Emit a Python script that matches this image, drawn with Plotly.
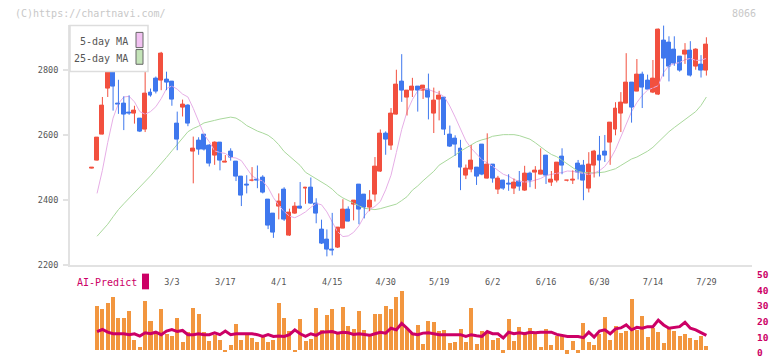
import plotly.graph_objects as go

# ---------------- data ----------------
open_ = [2497, 2521, 2602, 2743, 2808, 2698, 2697, 2670, 2665, 2650,
         2617, 2729, 2773, 2768, 2770, 2763, 2635, 2685, 2692, 2549,
         2584, 2602, 2568, 2536, 2578, 2516, 2548, 2518, 2472, 2446,
         2458, 2462, 2469, 2400, 2357, 2378, 2433, 2289, 2358, 2380,
         2434, 2439, 2390, 2309, 2279, 2248, 2252, 2313, 2369, 2385,
         2448, 2417, 2377, 2415, 2486, 2605, 2566, 2663, 2765, 2714,
         2736, 2750, 2736, 2741, 2666, 2708, 2716, 2602, 2589, 2559,
         2476, 2494, 2499, 2571, 2466, 2508, 2431, 2460, 2451, 2434,
         2457, 2428, 2481, 2485, 2479, 2535, 2452, 2460, 2532, 2458,
         2458, 2511, 2505, 2436, 2505, 2535, 2550, 2575, 2617, 2665,
         2698, 2762, 2735, 2786, 2768, 2729, 2723, 2892, 2886, 2864,
         2840, 2849, 2861, 2810, 2816, 2798]
high = [2499, 2592, 2717, 2812, 2815, 2770, 2719, 2722, 2690, 2650,
        2810, 2743, 2780, 2856, 2795, 2763, 2672, 2709, 2695, 2595,
        2593, 2602, 2572, 2580, 2578, 2538, 2559, 2518, 2472, 2476,
        2501, 2506, 2476, 2402, 2357, 2420, 2439, 2373, 2393, 2455,
        2439, 2469, 2405, 2339, 2309, 2360, 2315, 2402, 2380, 2399,
        2448, 2417, 2430, 2532, 2617, 2611, 2683, 2801, 2849, 2738,
        2776, 2750, 2753, 2789, 2746, 2736, 2716, 2629, 2599, 2585,
        2509, 2569, 2499, 2571, 2605, 2508, 2474, 2462, 2479, 2466,
        2489, 2505, 2487, 2504, 2559, 2535, 2489, 2514, 2559, 2461,
        2491, 2523, 2523, 2547, 2554, 2597, 2600, 2638, 2701, 2732,
        2852, 2762, 2834, 2795, 2786, 2831, 2928, 2937, 2904, 2904,
        2840, 2883, 2889, 2867, 2846, 2901]
low = [2497, 2521, 2602, 2717, 2675, 2665, 2615, 2662, 2635, 2609,
       2609, 2718, 2728, 2738, 2738, 2690, 2553, 2657, 2627, 2451,
       2539, 2552, 2503, 2508, 2491, 2516, 2521, 2458, 2381, 2420,
       2457, 2436, 2420, 2310, 2283, 2340, 2335, 2289, 2357, 2372,
       2388, 2388, 2328, 2264, 2226, 2229, 2252, 2313, 2334, 2337,
       2325, 2343, 2365, 2395, 2486, 2539, 2554, 2663, 2702, 2660,
       2717, 2672, 2711, 2648, 2606, 2645, 2600, 2563, 2536, 2430,
       2464, 2485, 2446, 2476, 2466, 2453, 2418, 2431, 2428, 2418,
       2428, 2428, 2439, 2434, 2479, 2449, 2443, 2454, 2479, 2457,
       2449, 2463, 2399, 2423, 2469, 2472, 2517, 2508, 2599, 2609,
       2698, 2638, 2735, 2683, 2741, 2729, 2723, 2780, 2765, 2813,
       2795, 2819, 2780, 2801, 2777, 2783]
close = [2499, 2592, 2692, 2805, 2748, 2695, 2664, 2667, 2675, 2609,
         2727, 2720, 2733, 2850, 2761, 2709, 2585, 2695, 2635, 2559,
         2554, 2556, 2511, 2578, 2521, 2518, 2529, 2472, 2412, 2443,
         2460, 2459, 2423, 2322, 2299, 2395, 2338, 2360, 2380, 2373,
         2439, 2388, 2358, 2264, 2246, 2243, 2315, 2369, 2334, 2399,
         2370, 2377, 2397, 2502, 2605, 2585, 2665, 2756, 2738, 2738,
         2750, 2736, 2753, 2714, 2707, 2722, 2615, 2563, 2571, 2500,
         2496, 2520, 2471, 2478, 2508, 2466, 2465, 2436, 2446, 2454,
         2440, 2481, 2460, 2490, 2490, 2474, 2463, 2514, 2506, 2460,
         2463, 2485, 2460, 2508, 2550, 2520, 2535, 2638, 2680, 2701,
         2762, 2683, 2786, 2747, 2741, 2774, 2925, 2834, 2810, 2819,
         2798, 2861, 2783, 2864, 2798, 2877]

# moving averages, starting at the 2nd candle
ma5 = [2420, 2491, 2577, 2652, 2697, 2717, 2719, 2702, 2672, 2664,
       2672, 2687, 2712, 2743, 2751, 2741, 2726, 2717, 2682, 2642,
       2602, 2579, 2551, 2546, 2543, 2531, 2529, 2521, 2496, 2474,
       2464, 2458, 2438, 2407, 2383, 2364, 2350, 2345, 2353, 2363,
       2377, 2389, 2385, 2363, 2332, 2302, 2287, 2289, 2300, 2320,
       2350, 2370, 2380, 2395, 2431, 2476, 2546, 2617, 2672, 2709,
       2736, 2743, 2740, 2734, 2728, 2717, 2689, 2655, 2617, 2582,
       2559, 2540, 2524, 2514, 2504, 2491, 2479, 2473, 2463, 2457,
       2455, 2456, 2461, 2466, 2475, 2479, 2482, 2484, 2489, 2488,
       2484, 2480, 2478, 2483, 2490, 2503, 2525, 2555, 2595, 2630,
       2672, 2700, 2722, 2738, 2745, 2752, 2793, 2813, 2820, 2823,
       2832, 2836, 2830, 2830, 2836]
ma25 = [2288, 2305, 2325, 2348, 2370, 2388, 2405, 2420, 2439, 2456,
        2474, 2493, 2511, 2531, 2551, 2571, 2590, 2610, 2620, 2627,
        2637, 2642, 2645, 2649, 2652, 2655, 2652, 2642, 2629, 2620,
        2612, 2606, 2599, 2587, 2570, 2549, 2534, 2521, 2506, 2485,
        2475, 2467, 2456, 2445, 2433, 2417, 2406, 2398, 2390, 2380,
        2374, 2372, 2370, 2373, 2378, 2383, 2387, 2398, 2410, 2430,
        2443, 2459, 2474, 2488, 2507, 2517, 2529, 2538, 2550, 2560,
        2570, 2579, 2585, 2589, 2596, 2599, 2601, 2601, 2601, 2598,
        2593, 2587, 2576, 2562, 2551, 2540, 2533, 2522, 2510, 2498,
        2488, 2484, 2483, 2483, 2484, 2486, 2491, 2496, 2506, 2517,
        2526, 2532, 2540, 2550, 2562, 2579, 2595, 2610, 2623, 2635,
        2647, 2658, 2672, 2691, 2717]

# lower panel (starting at the 2nd candle)
volume = [28.1, 26.2, 29.9, 33.7, 20.6, 20.6, 24.9, 6.9, 2.5, 31.2,
          18.7, 12.0, 26.2, 10.6, 9.4, 20.6, 5.6, 11.8, 26.8, 23.1,
          11.8, 6.2, 10.0, 6.9, -1.0, 3.7, 16.8, 6.9, 10.0, 8.1,
          5.6, 8.7, 5.6, 6.9, 29.9, 20.6, 12.5, -1.2, 20.0, 6.2,
          7.5, 26.8, 13.1, 22.4, 26.2, 11.2, 27.4, 15.6, 13.7, 24.9,
          13.1, 9.4, 23.1, 23.1, 28.1, 26.2, 33.7, 38.0, 14.3, 11.2,
          16.2, 4.4, 18.7, 18.1, 12.5, 13.1, 5.0, 5.6, 13.7, 5.6,
          26.8, 4.4, 12.5, 11.4, 6.9, 8.1, -1.5, 20.0, 6.2, 15.0,
          12.0, 14.3, 11.2, 2.5, 13.7, 3.7, 9.4, 9.4, -2.3, 6.2,
          -1.6, 17.5, 5.6, 3.7, 10.6, 21.2, 6.9, 15.6, 11.2, 12.5,
          33.0, 13.1, 21.8, 8.7, 14.3, 11.8, 5.0, 13.7, 12.5, 9.4,
          10.6, 8.1, 6.9, 9.4, 3.1]
ai_predict = [11.8, 13.1, 11.4, 10.4, 10.4, 10.4, 9.8, 10.4, 8.9, 11.0,
              10.4, 11.4, 9.8, 12.1, 13.1, 11.8, 12.5, 9.8, 9.8, 10.4,
              9.8, 9.8, 11.0, 9.8, 12.1, 9.8, 10.4, 10.4, 10.4, 10.4,
              9.8, 8.7, 9.8, 8.7, 8.9, 8.7, 9.8, 12.9, 10.4, 8.7,
              10.4, 9.4, 11.4, 11.8, 11.8, 10.8, 11.4, 11.0, 10.0, 10.4,
              9.8, 9.4, 10.4, 11.4, 10.8, 13.9, 12.9, 17.0, 13.9, 10.4,
              9.8, 10.8, 11.0, 10.4, 9.8, 9.8, 9.8, 9.8, 9.8, 8.7,
              9.8, 9.1, 8.7, 11.8, 10.4, 10.4, 7.7, 11.4, 10.4, 11.0,
              10.4, 11.4, 11.0, 11.4, 11.4, 11.4, 10.0, 9.4, 8.7, 8.7,
              8.7, 7.9, 11.4, 8.3, 12.1, 12.9, 10.4, 13.5, 14.1, 16.0,
              12.9, 14.5, 13.9, 14.9, 14.9, 19.1, 16.0, 13.9, 14.5, 14.9,
              17.7, 13.9, 12.9, 11.4, 9.4]

date_labels = ["3/3", "3/17", "4/1", "4/15", "4/30", "5/19",
               "6/2", "6/16", "6/30", "7/14", "7/29"]
date_label_pos = [15, 25, 35, 45, 55, 65, 75, 85, 95, 105, 115]
price_ticks = [2200, 2400, 2600, 2800]
ai_ticks = [0, 10, 20, 30, 40, 50]

# ---------------- styling ----------------
W, H = 772, 361
UP, DOWN = "#F2503F", "#3F78EE"
MONO = "DejaVu Sans Mono"
AXC = "#E2E2E2"


def fx(px):
    return px / W


def fy(py):
    return 1 - py / H


n = len(close)
idx = list(range(n))
sub_idx = list(range(1, n))

fig = go.Figure()

# moving averages
fig.add_trace(go.Scatter(x=sub_idx, y=ma25, mode="lines",
                         line=dict(color="#A9D89C", width=1), hoverinfo="skip"))
fig.add_trace(go.Scatter(x=sub_idx, y=ma5, mode="lines",
                         line=dict(color="#E6AEE6", width=1), hoverinfo="skip"))

# candles: wicks + bodies
for is_up, col in ((True, UP), (False, DOWN)):
    sel = [i for i in idx if (close[i] >= open_[i]) == is_up]
    wx, wy = [], []
    for i in sel:
        wx += [i, i, None]
        wy += [low[i], high[i], None]
    fig.add_trace(go.Scatter(x=wx, y=wy, mode="lines",
                             line=dict(color=col, width=1), hoverinfo="skip"))
    fig.add_trace(go.Bar(x=sel,
                         y=[abs(close[i] - open_[i]) for i in sel],
                         base=[min(close[i], open_[i]) for i in sel],
                         width=0.74,
                         marker=dict(color=col, line=dict(color=col, width=1)),
                         hoverinfo="skip"))

# lower panel
fig.add_trace(go.Bar(x=sub_idx, y=volume, width=0.75, yaxis="y2",
                     marker=dict(color="#F2963F", line=dict(width=0)),
                     hoverinfo="skip"))
fig.add_trace(go.Scatter(x=sub_idx, y=ai_predict, mode="lines", yaxis="y2",
                         line=dict(color="#CC0066", width=3), hoverinfo="skip"))

x_range = [(70 - 91.7) / 5.345, (752 - 91.7) / 5.345]
y_main_top = 2940
y2_range = [-(H - 355) / 1.604, (355 - 274) / 1.604]

fig.update_layout(
    width=W, height=H,
    margin=dict(l=0, r=0, t=0, b=0),
    paper_bgcolor="white", plot_bgcolor="white",
    showlegend=False, barmode="overlay", bargap=0,
    xaxis=dict(domain=[fx(70), fx(752)], range=x_range, anchor="y",
               tickvals=date_label_pos, ticktext=date_labels,
               ticks="", showgrid=False, zeroline=False,
               showline=True, linecolor=AXC, linewidth=2,
               tickfont=dict(family=MONO, size=8.5, color="#555555"),
               ticklabelstandoff=8),
    xaxis3=dict(overlaying="x", anchor="y", range=[0, 11],
                tickvals=list(range(12)), ticks="outside", ticklen=5,
                tickcolor=AXC, tickwidth=1.5, showticklabels=False,
                showgrid=False, zeroline=False, showline=False),
    xaxis4=dict(overlaying="x", anchor="y", range=[0, 11],
                tickvals=list(range(12)), ticks="inside", ticklen=4,
                tickcolor=AXC, tickwidth=1.5, showticklabels=False,
                showgrid=False, zeroline=False, showline=False),
    yaxis=dict(domain=[fy(268), fy(268 - (y_main_top - 2200) * 66.2 / 200)],
               range=[2200, y_main_top], anchor="x",
               tickvals=price_ticks, ticks="outside", ticklen=5,
               tickcolor=AXC, tickwidth=1.5,
               showgrid=False, zeroline=False,
               showline=True, linecolor=AXC, linewidth=2,
               ticklabelstandoff=3,
               tickfont=dict(family=MONO, size=8.5, color="#555555")),
    yaxis3=dict(overlaying="y", anchor="x", range=[2200, y_main_top],
                tickvals=price_ticks, ticks="inside", ticklen=5,
                tickcolor=AXC, tickwidth=1.5, showticklabels=False,
                showgrid=False, zeroline=False, showline=False),
    yaxis2=dict(domain=[0, fy(274)], range=y2_range, anchor="x",
                side="right", tickvals=ai_ticks, ticks="",
                showgrid=False, zeroline=False, showline=False,
                ticklabelshift=3, ticklabelstandoff=4,
                tickfont=dict(family=MONO, size=9.5, color="#CC0066",
                              weight="bold")),
)

# legend box (drawn above the data, as in the original)
shapes = [
    dict(type="rect", xref="paper", yref="paper", layer="above",
         x0=fx(70), x1=fx(148), y0=fy(71), y1=fy(24),
         fillcolor="white", line=dict(color="#DDDDDD", width=1.5)),
    dict(type="rect", xref="paper", yref="paper", layer="above",
         x0=fx(136), x1=fx(143), y0=fy(46.5), y1=fy(31),
         fillcolor="#F2C2F2", line=dict(color="#666666", width=1)),
    dict(type="rect", xref="paper", yref="paper", layer="above",
         x0=fx(136), x1=fx(143), y0=fy(63.5), y1=fy(48.5),
         fillcolor="#C4E4B8", line=dict(color="#666666", width=1)),
    dict(type="rect", xref="paper", yref="paper", layer="above",
         x0=fx(142), x1=fx(149), y0=fy(293), y1=fy(277),
         fillcolor="#CC0066", line=dict(width=0)),
]
annotations = [
    dict(text="5-day MA", x=fx(130), y=fy(40.7), xanchor="right"),
    dict(text="25-day MA", x=fx(130), y=fy(57.3), xanchor="right"),
    dict(text="AI-Predict", x=fx(75), y=fy(286), xanchor="left",
         font=dict(family=MONO, size=10, color="#CC0066")),
    dict(text="(C)https://chartnavi.com/", x=fx(13), y=fy(12), xanchor="left",
         font=dict(family=MONO, size=10, color="#C8C8C8")),
    dict(text="8066", x=fx(758), y=fy(12), xanchor="right",
         font=dict(family=MONO, size=10, color="#C8C8C8")),
]
for a in annotations:
    a.update(xref="paper", yref="paper", yanchor="middle", showarrow=False)
    a.setdefault("font", dict(family=MONO, size=10, color="#555555"))
fig.update_layout(shapes=shapes, annotations=annotations)

fig.write_html("out.html")
